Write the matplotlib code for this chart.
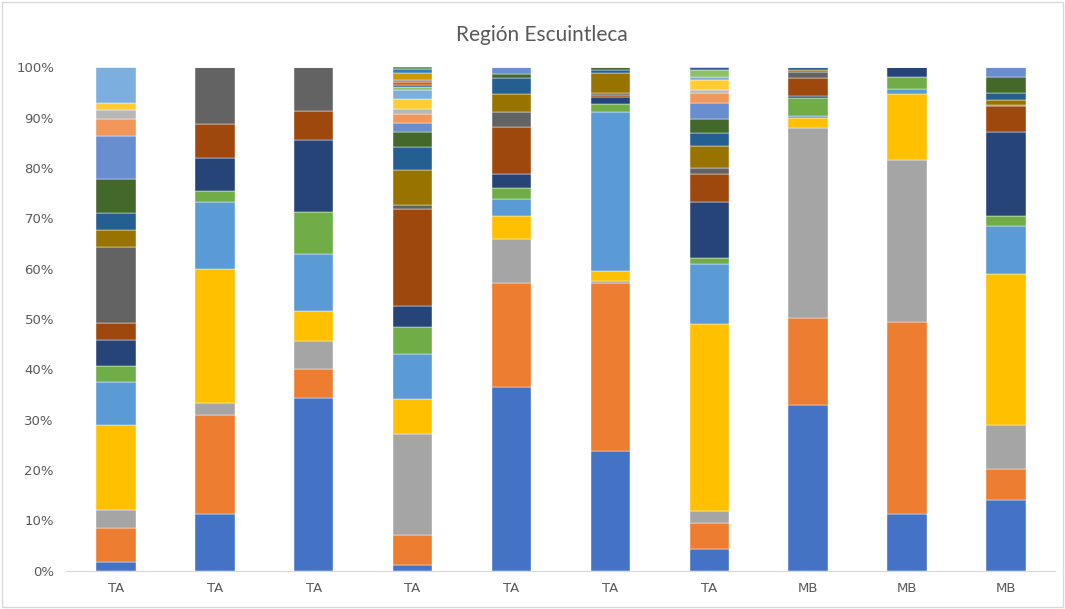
import numpy as np
from matplotlib import pyplot as plt
from matplotlib.patches import Rectangle

# category labels along the x axis
labels = ['TA', 'TA', 'TA', 'TA', 'TA', 'TA', 'TA', 'MB', 'MB', 'MB']

# share of each series (%) in every column, bottom to top
col_1 = [1.75, 6.7, 3.55, 16.9, 8.5, 3.3, 5.2, 3.3, 15.1, 3.4, 3.3, 6.9, 8.4, 3.4, 1.8, 1.5, 7.0]
col_2 = [11.3, 19.7, 2.3, 26.7, 13.3, 2.1, 6.6, 6.7, 11.3]
col_3 = [34.3, 5.7, 5.6, 5.9, 11.3, 8.4, 14.4, 5.7, 8.7]
col_4 = [1.0, 6.05, 20.05, 7.0, 9.0, 5.3, 4.2, 19.2, 0.8, 6.9, 4.6, 3.0, 1.8, 1.8, 1.1, 1.9,
         1.8, 0.5, 0.4, 0.7, 0.3, 1.4, 0.9, 0.3]
col_5 = [36.4, 20.7, 8.8, 4.5, 3.4, 2.3, 2.6, 9.5, 3.0, 3.4, 3.3, 0.8, 1.3]
col_6 = [23.8, 33.3, 0.5, 1.9, 31.7, 1.5, 1.3, 0.4, 0.4, 4.1, 0.5, 0.6]
col_7 = [4.3, 5.1, 2.4, 37.1, 12.0, 1.2, 11.2, 5.4, 1.2, 4.5, 2.5, 2.8, 3.3, 1.8, 0.7, 1.9,
         0.7, 1.3, 0.6]
col_8 = [32.8, 17.4, 37.7, 2.0, 0.4, 3.5, 0.5, 3.6, 1.1, 0.5, 0.5]
col_9 = [11.2, 38.2, 32.1, 13.1, 1.0, 2.5, 1.9]
col_10 = [14.1, 6.1, 8.7, 30.0, 9.5, 2.0, 16.7, 5.3, 0.2, 1.0, 1.2, 3.3, 1.9]

columns = [col_1, col_2, col_3, col_4, col_5, col_6, col_7, col_8, col_9, col_10]

# office colour cycle for series 1..24
series_colors = ['#4472C4', '#ED7D31', '#A5A5A5', '#FFC000', '#5B9BD5', '#70AD47',
                 '#264478', '#9E480E', '#636363', '#997300', '#255E91', '#43682B',
                 '#698ED0', '#F1975A', '#B7B7B7', '#FFCD33', '#7CAFDD', '#8CC168',
                 '#335AA1', '#D26012', '#848484', '#CC9A00', '#327DC2', '#5A8A39']

n_series = max(len(c) for c in columns)
data = np.zeros((n_series, len(columns)))
for j, c in enumerate(columns):
    data[:len(c), j] = c
data = data / data.sum(axis=0)  # 100% stacked

fig = plt.figure(figsize=(10.65, 6.09), dpi=100)
ax = fig.add_axes([0.0624, 0.0632, 0.9286, 0.8263])

x = np.arange(len(columns))
bottom = np.zeros(len(columns))
for i in range(n_series):
    ax.bar(x, data[i], bottom=bottom, width=0.4, color=series_colors[i],
           edgecolor='white', linewidth=0.3)
    bottom += data[i]

ax.set_xlim(-0.5, len(columns) - 0.5)
ax.set_ylim(0, 1)
ax.set_yticks(np.arange(0, 1.01, 0.1))
ax.set_yticklabels([f'{int(round(v * 100))}%' for v in np.arange(0, 1.01, 0.1)])
ax.set_xticks(x)
ax.set_xticklabels(labels)
ax.tick_params(axis='both', length=0, colors='#595959', labelsize=9.5)
ax.tick_params(axis='y', pad=9)
ax.tick_params(axis='x', pad=8)
for s in ['top', 'right', 'left']:
    ax.spines[s].set_visible(False)
ax.spines['bottom'].set_color('#D9D9D9')

fig.text(0.509, 0.943, 'Región Escuintleca', ha='center', va='center',
         fontsize=15, color='#595959', family='Lato')
fig.patches.append(Rectangle((0.002, 0.003), 0.996, 0.994, transform=fig.transFigure,
                             fill=False, edgecolor='#D9D9D9', linewidth=1))

fig.savefig('out.png', dpi=100)
